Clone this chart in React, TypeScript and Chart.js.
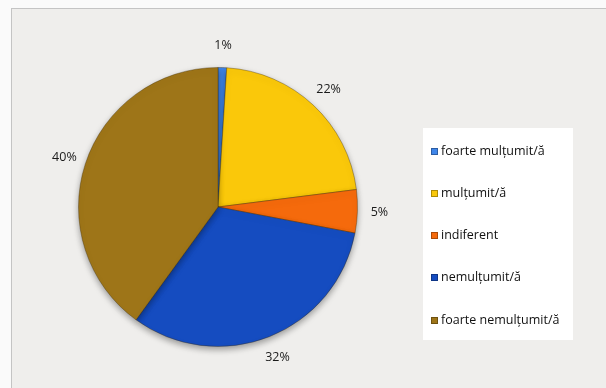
import React, { useEffect, useRef } from "react";
import { Chart, registerables } from "chart.js";

Chart.register(...registerables);

const categories = ["foarte mulțumit/ă", "mulțumit/ă", "indiferent", "nemulțumit/ă", "foarte nemulțumit/ă"];
const values = [1, 22, 5, 32, 40];
const percentLabels = ["1%", "22%", "5%", "32%", "40%"];
const colors = ["#3f86ea", "#fac80a", "#f56a0c", "#154cc0", "#9e7518"];

const FONT = "'Open Sans', 'Liberation Sans', sans-serif";

const framePlugin = {
  id: "frame",
  beforeDraw(chart: any) {
    const ctx = chart.ctx;
    ctx.save();
    ctx.fillStyle = "#fafafa";
    ctx.fillRect(0, 0, chart.width, chart.height);
    ctx.fillStyle = "#efeeec";
    ctx.fillRect(11, 8, chart.width, chart.height);
    ctx.strokeStyle = "#c4c4c4";
    ctx.lineWidth = 1;
    ctx.strokeRect(11.5, 8.5, chart.width + 10, chart.height + 10);
    ctx.restore();
  },
};

const shadowPlugin = {
  id: "pieShadow",
  beforeDatasetsDraw(chart: any) {
    const ctx = chart.ctx;
    ctx.save();
    ctx.shadowColor = "rgba(0,0,0,0.35)";
    ctx.shadowBlur = 6;
    ctx.shadowOffsetY = 3;
  },
  afterDatasetsDraw(chart: any) {
    chart.ctx.restore();
  },
};

const labelPlugin = {
  id: "outLabels",
  afterDatasetsDraw(chart: any) {
    const ctx = chart.ctx;
    const meta = chart.getDatasetMeta(0);
    ctx.save();
    ctx.font = `12.5px ${FONT}`;
    ctx.fillStyle = "#1a1a1a";
    ctx.textAlign = "center";
    ctx.textBaseline = "middle";
    meta.data.forEach((arc: any, i: number) => {
      const mid = (arc.startAngle + arc.endAngle) / 2;
      const r = arc.outerRadius + 22;
      ctx.fillText(percentLabels[i], arc.x + Math.cos(mid) * r, arc.y + Math.sin(mid) * r);
    });
    ctx.restore();
  },
};

const legendPlugin = {
  id: "boxLegend",
  afterDraw(chart: any) {
    const ctx = chart.ctx;
    ctx.save();
    ctx.fillStyle = "#ffffff";
    ctx.fillRect(423, 128, 150, 212);
    ctx.font = `12.5px ${FONT}`;
    ctx.textBaseline = "middle";
    ctx.textAlign = "left";
    const ys = [151, 193, 235, 277, 320];
    categories.forEach((c, i) => {
      const y = ys[i];
      ctx.fillStyle = colors[i];
      ctx.fillRect(431, y - 3, 7, 7);
      ctx.strokeStyle = "rgba(0,0,0,0.3)";
      ctx.lineWidth = 1;
      ctx.strokeRect(431.5, y - 2.5, 6, 6);
      ctx.fillStyle = "#111111";
      ctx.fillText(c, 441, y);
    });
    ctx.restore();
  },
};

export default function App() {
  const ref = useRef<HTMLCanvasElement>(null);
  useEffect(() => {
    if (!ref.current) return;
    const chart = new Chart(ref.current, {
      type: "pie",
      data: {
        labels: categories,
        datasets: [
          {
            data: values,
            backgroundColor: colors,
            borderColor: "rgba(60,40,0,0.35)",
            borderWidth: 1,
          },
        ],
      },
      options: {
        animation: false,
        responsive: false,
        maintainAspectRatio: false,
        layout: { padding: { left: 78, right: 248, top: 67, bottom: 41 } },
        plugins: {
          legend: { display: false },
          tooltip: { enabled: false },
        },
      },
      plugins: [framePlugin, shadowPlugin, labelPlugin, legendPlugin],
    });
    return () => chart.destroy();
  }, []);
  return (
    <div style={{ position: "fixed", left: 0, top: 0, width: 606, height: 388 }}>
      <canvas ref={ref} width={606} height={388} style={{ width: 606, height: 388, display: "block" }} />
    </div>
  );
}
